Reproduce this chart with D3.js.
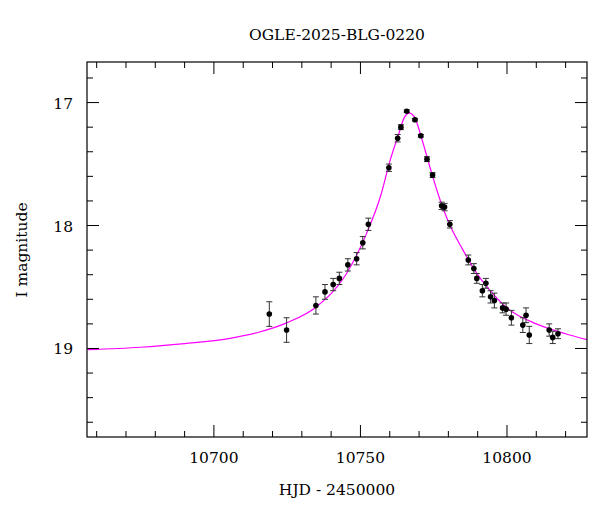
<!DOCTYPE html>
<html><head><meta charset="utf-8">
<script src="https://cdn.jsdelivr.net/npm/d3@7"></script>
<style>body{margin:0;background:#fff}text{font-family:"DejaVu Serif",serif;fill:#000}</style>
</head><body><svg id="c" width="600" height="512"></svg>
<script>
// observations: HJD-2450000, I mag, error
var obsT = [10718.9,10724.8,10734.8,10737.9,10740.7,10742.8,10745.7,10748.7,10750.8,10752.7,10759.7,10762.7,10763.8,10765.8,10768.6,10770.6,10772.7,10774.6,10777.7,10778.7,10780.5,10786.8,10788.7,10789.7,10792.8,10791.6,10794.4,10795.7,10798.5,10799.7,10801.5,10805.4,10806.5,10807.6,10814.4,10815.6,10817.4];
var obsMag = [18.72,18.85,18.65,18.54,18.48,18.43,18.32,18.27,18.14,17.99,17.53,17.29,17.20,17.07,17.14,17.27,17.46,17.59,17.84,17.85,17.99,18.28,18.35,18.43,18.47,18.53,18.58,18.61,18.67,18.68,18.75,18.81,18.73,18.89,18.85,18.91,18.88];
var obsErr = [0.10,0.10,0.07,0.06,0.05,0.05,0.05,0.05,0.05,0.05,0.03,0.03,0.02,0.01,0.01,0.01,0.02,0.02,0.03,0.03,0.03,0.04,0.04,0.04,0.04,0.05,0.05,0.06,0.04,0.05,0.06,0.06,0.06,0.07,0.05,0.05,0.04];
// model curve
var modelT = [10657,10675,10690,10705,10715,10725,10735,10745,10752,10757,10760,10763,10765,10766.7,10768.5,10771,10774,10777,10780,10785,10790,10795,10800,10810,10820,10827.5];
var modelMag = [19.01,18.99,18.96,18.92,18.87,18.79,18.66,18.40,18.07,17.75,17.48,17.26,17.12,17.085,17.12,17.30,17.55,17.78,17.97,18.20,18.40,18.55,18.67,18.80,18.88,18.93];
var xMajor = [10700,10750,10800];
var yMajor = [17,18,19];

var svg = d3.select("#c");
var L = 87, R = 587, T = 62, B = 437;
var x = d3.scaleLinear().domain([10656.7,10827.3]).range([L,R]);
var y = d3.scaleLinear().domain([16.67,19.72]).range([T,B]);

svg.append("defs").append("clipPath").attr("id","clip")
	.append("rect").attr("x",L).attr("y",T).attr("width",R-L).attr("height",B-T);

svg.append("path")
	.datum(modelT.map(function(t,i){return [t,modelMag[i]];}))
	.attr("clip-path","url(#clip)")
	.attr("fill","none").attr("stroke","#ff00ff").attr("stroke-width",1.2)
	.attr("d", d3.line().x(function(d){return x(d[0]);}).y(function(d){return y(d[1]);}).curve(d3.curveMonotoneX));

var g = svg.append("g");
obsT.forEach(function(t,i){
	var cx = x(t), y1 = y(obsMag[i]-obsErr[i]), y2 = y(obsMag[i]+obsErr[i]);
	g.append("line").attr("x1",cx).attr("x2",cx).attr("y1",y1).attr("y2",y2).attr("stroke","#333");
	g.append("line").attr("x1",cx-3).attr("x2",cx+3).attr("y1",y1).attr("y2",y1).attr("stroke","#333");
	g.append("line").attr("x1",cx-3).attr("x2",cx+3).attr("y1",y2).attr("y2",y2).attr("stroke","#333");
	g.append("circle").attr("cx",cx).attr("cy",y(obsMag[i])).attr("r",2.8).attr("fill","#000");
});

// frame and inward ticks
svg.append("rect").attr("x",L).attr("y",T).attr("width",R-L).attr("height",B-T)
	.attr("fill","none").attr("stroke","#000").attr("stroke-width",1.2);
var xt = d3.range(10660,10830,10), yt = d3.range(16.8,19.71,0.2);
xt.forEach(function(v){
	var big = xMajor.indexOf(v) >= 0, len = big ? 12 : 6;
	svg.append("line").attr("x1",x(v)).attr("x2",x(v)).attr("y1",B).attr("y2",B-len).attr("stroke","#000");
	svg.append("line").attr("x1",x(v)).attr("x2",x(v)).attr("y1",T).attr("y2",T+len).attr("stroke","#000");
});
yt.forEach(function(v){
	var big = yMajor.some(function(m){return Math.abs(m-v)<1e-6;}), len = big ? 12 : 6;
	svg.append("line").attr("x1",L).attr("x2",L+len).attr("y1",y(v)).attr("y2",y(v)).attr("stroke","#000");
	svg.append("line").attr("x1",R).attr("x2",R-len).attr("y1",y(v)).attr("y2",y(v)).attr("stroke","#000");
});
xMajor.forEach(function(v){
	svg.append("text").attr("x",x(v)).attr("y",463).attr("text-anchor","middle").attr("font-size",15.5).text(v);
});
yMajor.forEach(function(v){
	svg.append("text").attr("x",73).attr("y",y(v)+6).attr("text-anchor","end").attr("font-size",15.5).text(v);
});
svg.append("text").attr("x",337).attr("y",495).attr("text-anchor","middle").attr("font-size",15.5).text("HJD - 2450000");
svg.append("text").attr("transform","translate(27,250) rotate(-90)").attr("text-anchor","middle").attr("font-size",15.5).text("I magnitude");
svg.append("text").attr("x",337).attr("y",40).attr("text-anchor","middle").attr("font-size",15.5).text("OGLE-2025-BLG-0220");
</script></body></html>
